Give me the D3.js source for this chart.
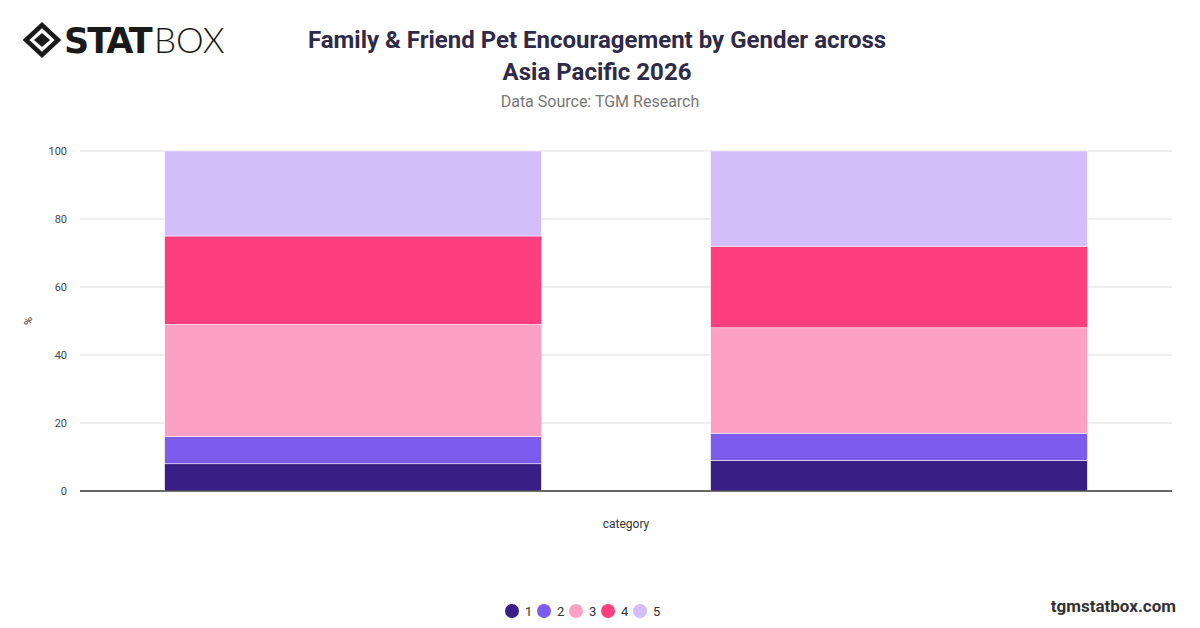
<!DOCTYPE html>
<html><head><meta charset="utf-8">
<script src="https://cdn.jsdelivr.net/npm/d3@7"></script>
<style>body{margin:0;background:#fff;font-family:Roboto,"Open Sans",sans-serif}</style>
</head><body><div id="chart"></div>
<script>
const categories = ["Female", "Male"];
const seriesKeys = ["1", "2", "3", "4", "5"];
const values1 = [8, 9];
const values2 = [8, 8];
const values3 = [33, 31];
const values4 = [26, 24];
const values5 = [25, 28];
const yTicks = [0, 20, 40, 60, 80, 100];
const colors = ["#371f86", "#7b5cec", "#fca1c4", "#fd3f80", "#d4bdfb"];

const width = 1200, height = 628;
const margin = {top: 151, left: 80, bottom: 137, right: 28};

const rows = categories.map((c, i) => ({cat: c, "1": values1[i], "2": values2[i], "3": values3[i], "4": values4[i], "5": values5[i]}));
const stacked = d3.stack().keys(seriesKeys)(rows);

const svg = d3.select("#chart").append("svg").attr("width", width).attr("height", height);

const x = d3.scaleBand().domain(categories).range([margin.left, width - margin.right]).paddingInner(0.31).paddingOuter(0.155);
const y = d3.scaleLinear().domain([0, 100]).range([height - margin.bottom, margin.top]);

// grid
svg.append("g").selectAll("line").data(yTicks).join("line")
    .attr("x1", margin.left).attr("x2", width - margin.right)
    .attr("y1", d => y(d)).attr("y2", d => y(d))
    .attr("stroke", d => d === 0 ? "#333" : "#ddd").attr("stroke-width", 1);

svg.append("g").attr("transform", `translate(${margin.left - 10},0)`)
    .call(d3.axisLeft(y).tickValues(yTicks).tickSize(0))
    .call(g => g.select(".domain").remove())
    .selectAll("text").attr("font-size", 11).attr("fill", "#444").attr("font-family", "Roboto");

// bars
svg.append("g").selectAll("g").data(stacked).join("g")
    .attr("fill", (d, i) => colors[i])
    .selectAll("rect").data(d => d).join("rect")
    .attr("x", d => x(d.data.cat)).attr("width", x.bandwidth())
    .attr("y", d => y(d[1])).attr("height", d => y(d[0]) - y(d[1]))
    .attr("stroke", "#fff").attr("stroke-width", 0.5);

svg.append("line").attr("x1", margin.left).attr("x2", width - margin.right)
    .attr("y1", y(0)).attr("y2", y(0)).attr("stroke", "#333");

// axis titles
svg.append("text").attr("x", 626).attr("y", 528).attr("text-anchor", "middle").attr("font-size", 12).attr("fill", "#333").text("category");
svg.append("text").attr("transform", "translate(32,321) rotate(-90)").attr("text-anchor", "middle").attr("font-size", 11).attr("fill", "#333").text("%");

// titles
svg.append("text").attr("x", 597).attr("y", 48).attr("text-anchor", "middle").attr("font-size", 24).attr("font-weight", 700).attr("fill", "#2e2a48").text("Family & Friend Pet Encouragement by Gender across");
svg.append("text").attr("x", 597).attr("y", 80).attr("text-anchor", "middle").attr("font-size", 24).attr("font-weight", 700).attr("fill", "#2e2a48").text("Asia Pacific 2026");
svg.append("text").attr("x", 600).attr("y", 107).attr("text-anchor", "middle").attr("font-size", 16).attr("fill", "#777").text("Data Source: TGM Research");

// logo
const logo = svg.append("g").attr("transform", "translate(26,40)");
logo.append("path").attr("d", "M0,0 L16,-15 L32,0 L16,15 Z").attr("fill", "none").attr("stroke", "#1a1a1a").attr("stroke-width", 4.5);
logo.append("path").attr("d", "M8,0 L16,-7 L24,0 L16,7 Z").attr("fill", "#1a1a1a");
logo.append("text").attr("x", 38).attr("y", 13).attr("font-size", 35).attr("font-weight", 900).attr("font-family", "'DejaVu Sans'").attr("letter-spacing", -2).attr("fill", "#1a1a1a").text("STAT");
logo.append("text").attr("x", 128).attr("y", 13).attr("font-size", 35).attr("font-weight", 300).attr("font-family", "Lato").attr("fill", "#1a1a1a").text("BOX");

// legend
const leg = svg.append("g").selectAll("g").data(seriesKeys).join("g")
    .attr("transform", (d, i) => `translate(${512 + i * 32},611)`);
leg.append("circle").attr("r", 7).attr("fill", (d, i) => colors[i]);
leg.append("text").attr("x", 13).attr("y", 5).attr("font-size", 13).attr("fill", "#333").text(d => d);

svg.append("text").attr("x", 1176).attr("y", 612).attr("text-anchor", "end").attr("font-size", 17).attr("font-weight", 700).attr("fill", "#333").text("tgmstatbox.com");
</script></body></html>
